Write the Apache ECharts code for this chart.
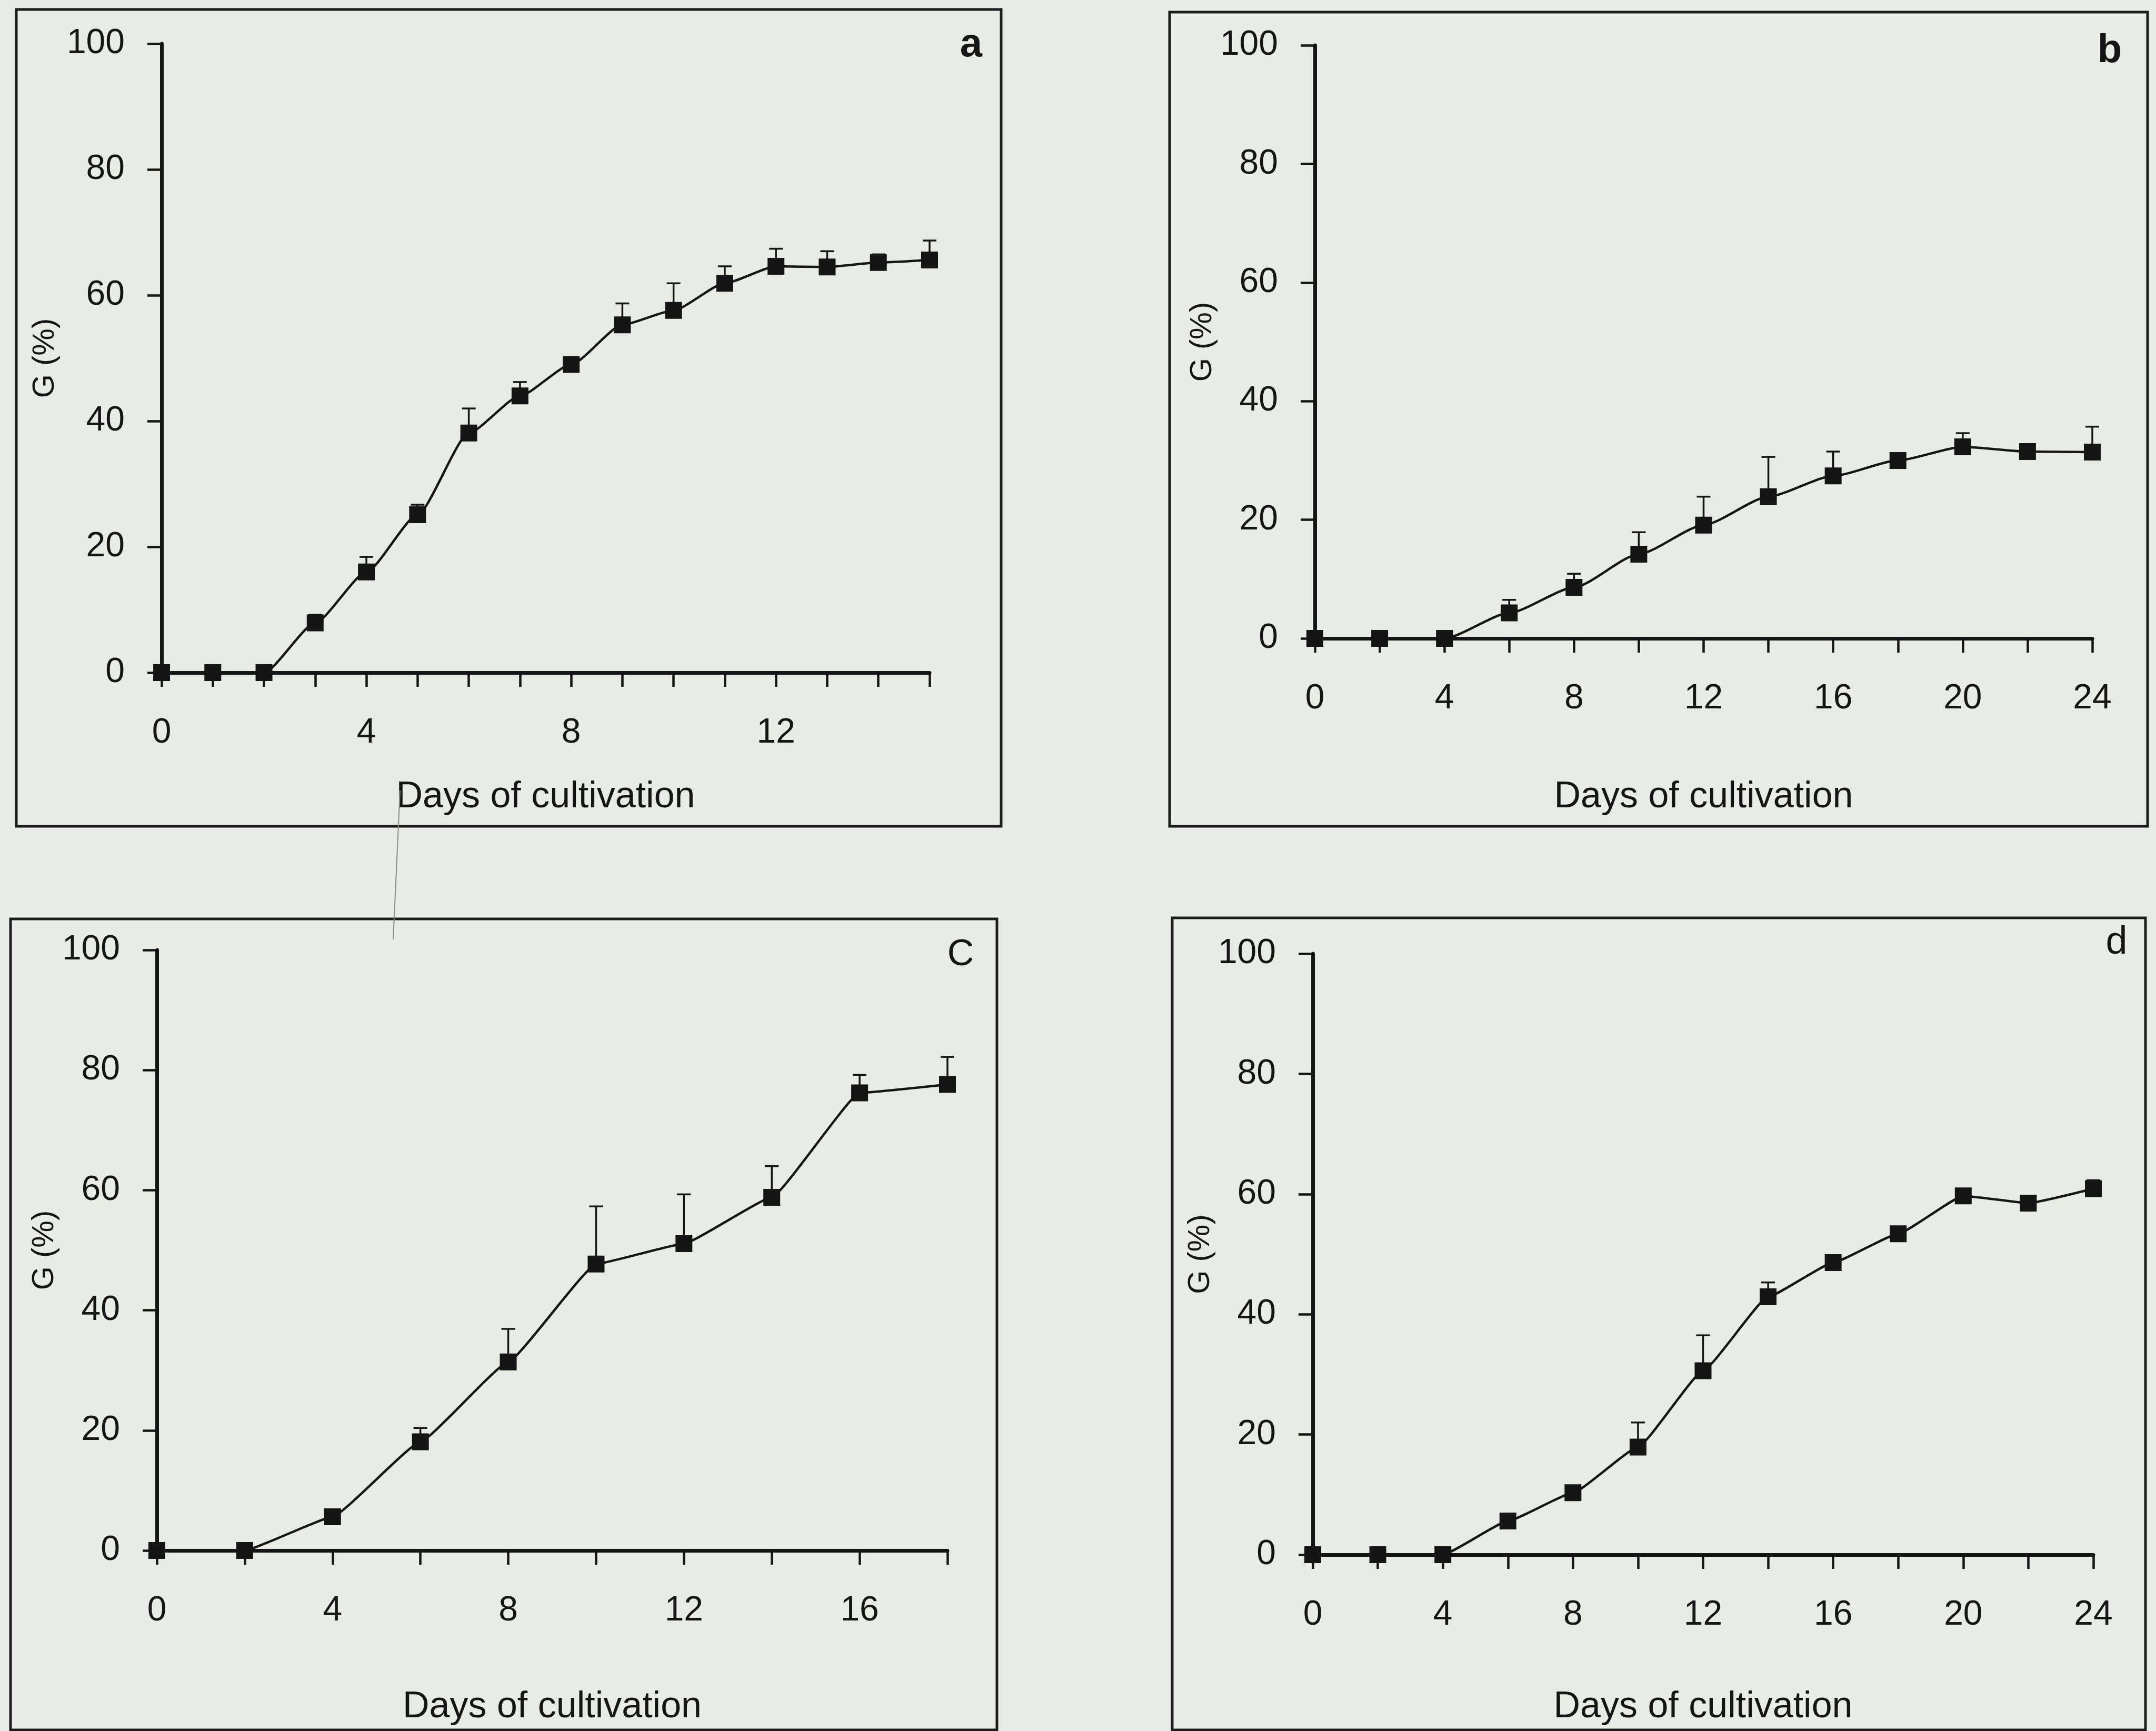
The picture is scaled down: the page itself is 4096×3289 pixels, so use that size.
<!DOCTYPE html>
<html><head><meta charset="utf-8">
<script src="https://cdn.jsdelivr.net/npm/echarts@6/dist/echarts.min.js"></script>
<style>html,body{margin:0;padding:0;background:#e7ece4;}#c{width:4096px;height:3289px;}</style>
</head><body><div id="c"></div>
<script>
// ---- data ----
const daysA = [0,1,2,3,4,5,6,7,8,9,10,11,12,13,14,15];
const gA    = [0,0,0,7.9,16.0,25.1,38.1,44.0,49.0,55.3,57.6,61.9,64.6,64.5,65.2,65.6];
const errA  = [0,0,0,1.3,2.4,1.6,3.9,2.2,0.8,3.4,4.3,2.7,2.8,2.5,1.3,3.1];

const daysB = [0,2,4,6,8,10,12,14,16,18,20,22,24];
const gB    = [0,0,0,4.3,8.6,14.2,19.1,23.9,27.4,30.0,32.3,31.5,31.4];
const errB  = [0,0,0,2.2,2.3,3.7,4.8,6.7,4.1,1.1,2.3,1.0,4.3];

const daysC = [0,2,4,6,8,10,12,14,16,18];
const gC    = [0,0,5.6,18.1,31.4,47.7,51.1,58.8,76.2,77.6];
const errC  = [0,0,0.5,2.3,5.5,9.6,8.2,5.2,3.0,4.6];

const daysD = [0,2,4,6,8,10,12,14,16,18,20,22,24];
const gD    = [0,0,0,5.6,10.3,17.9,30.6,42.9,48.6,53.4,59.7,58.5,60.9];
const errD  = [0,0,0,0.4,0.6,4.1,5.9,2.4,0.6,0.5,0.5,0.5,1.4];

const yTicks   = [0,20,40,60,80,100];
const xLabelsA = [0,4,8,12];
const xLabelsB = [0,4,8,12,16,20,24];
const xLabelsC = [0,4,8,12,16];
const xLabelsD = [0,4,8,12,16,20,24];
const panelLetters = ['a','b','C','d'];
const xTitle = 'Days of cultivation';
const yTitle = 'G (%)';

// ---- layout ----
const FONT = '"Liberation Sans", Arial, sans-serif';
const INK = '#151515';
const panels = [
  {days:daysA, g:gA, err:errA, xMax:15, xStep:1, xLabels:xLabelsA, smooth:0.2,
   grid:{left:307, top:83, width:1459, height:1195}, gapX:202, gapY:192,
   frame:[31,18,1871,1552], letter:{x:1845, y:86, bold:true, size:76}},
  {days:daysB, g:gB, err:errB, xMax:24, xStep:2, xLabels:xLabelsB, smooth:0.22,
   grid:{left:2498, top:86, width:1477, height:1127}, gapX:267, gapY:184,
   frame:[2222,23,1858,1547], letter:{x:4008, y:97, bold:true, size:76}},
  {days:daysC, g:gC, err:errC, xMax:18, xStep:2, xLabels:xLabelsC, smooth:0.1,
   grid:{left:298, top:1805, width:1502, height:1141}, gapX:263, gapY:179,
   frame:[20,1746,1874,1541], letter:{x:1825, y:1815, bold:false, size:70}},
  {days:daysD, g:gD, err:errD, xMax:24, xStep:2, xLabels:xLabelsD, smooth:0.12,
   grid:{left:2494, top:1812, width:1483, height:1142}, gapX:255, gapY:182,
   frame:[2227,1744,1849,1543], letter:{x:4021, y:1792, bold:false, size:74}}
];

const grids = [], xAxes = [], yAxes = [], series = [], graphics = [];
panels.forEach((p, i) => {
  grids.push(Object.assign({containLabel:false, outerBoundsMode:'none'}, p.grid));
  xAxes.push({
    type:'value', gridIndex:i, min:0, max:p.xMax, interval:p.xStep,
    splitLine:{show:false},
    axisLine:{show:true, onZero:true, lineStyle:{color:INK, width:7}},
    axisTick:{show:true, inside:false, length:27, lineStyle:{color:INK, width:4.5}},
    axisLabel:{show:true, margin:82, fontSize:66, color:INK, fontFamily:FONT,
      formatter: (v) => p.xLabels.indexOf(v) >= 0 ? String(v) : ''},
    name:xTitle, nameLocation:'middle', nameGap:p.gapX,
    nameTextStyle:{fontSize:70, color:INK, fontFamily:FONT}
  });
  yAxes.push({
    type:'value', gridIndex:i, min:yTicks[0], max:yTicks[yTicks.length-1], interval:yTicks[1]-yTicks[0],
    splitLine:{show:false},
    axisLine:{show:true, onZero:false, lineStyle:{color:INK, width:7}},
    axisTick:{show:true, inside:false, length:27, lineStyle:{color:INK, width:4.5}},
    axisLabel:{show:true, margin:70, fontSize:66, color:INK, fontFamily:FONT},
    name:yTitle, nameLocation:'middle', nameGap:p.gapY,
    nameTextStyle:{fontSize:58, color:INK, fontFamily:FONT}
  });
  // error bars (upper only, capped)
  series.push({
    type:'custom', xAxisIndex:i, yAxisIndex:i, clip:false, z:3,
    data: p.days.map((d, k) => [d, p.g[k], p.g[k] + p.err[k]]),
    renderItem: (params, api) => {
      const x = api.value(0), lo = api.value(1), hi = api.value(2);
      if (hi - lo < 0.05) return {type:'group', children:[]};
      const a = api.coord([x, lo]), b = api.coord([x, hi]);
      const hw = 13;
      return {type:'group', children:[
        {type:'line', shape:{x1:a[0], y1:a[1], x2:b[0], y2:b[1]}, style:{stroke:INK, lineWidth:3.5}},
        {type:'line', shape:{x1:b[0]-hw, y1:b[1], x2:b[0]+hw, y2:b[1]}, style:{stroke:INK, lineWidth:3.5}}
      ]};
    }
  });
  series.push({
    type:'line', xAxisIndex:i, yAxisIndex:i, clip:false, z:4,
    data: p.days.map((d, k) => [d, p.g[k]]),
    smooth:p.smooth, smoothMonotone:'x', symbol:'rect', symbolSize:32, showSymbol:true,
    itemStyle:{color:INK}, lineStyle:{color:INK, width:4.5},
    animation:false
  });
  const f = p.frame;
  graphics.push({type:'rect', shape:{x:f[0], y:f[1], width:f[2], height:f[3]},
    style:{fill:'rgba(0,0,0,0)', stroke:'#1c1c1c', lineWidth:5}, z:1});
  graphics.push({type:'text', x:p.letter.x, y:p.letter.y,
    style:{text:panelLetters[i], fontSize:p.letter.size, fontWeight:p.letter.bold?'bold':'normal',
      fontFamily:FONT, fill:INK, align:'center', verticalAlign:'middle'}, z:5});
});
// faint scan line crossing between panels a and c
graphics.push({type:'line', shape:{x1:760, y1:1502, x2:747, y2:1785},
  style:{stroke:'#8c8c8c', lineWidth:2}, z:1});

const chart = echarts.init(document.getElementById('c'), null, {renderer:'canvas'});
chart.setOption({
  backgroundColor:'#e7ece4',
  animation:false,
  grid:grids, xAxis:xAxes, yAxis:yAxes, series:series, graphic:graphics
});
</script></body></html>
